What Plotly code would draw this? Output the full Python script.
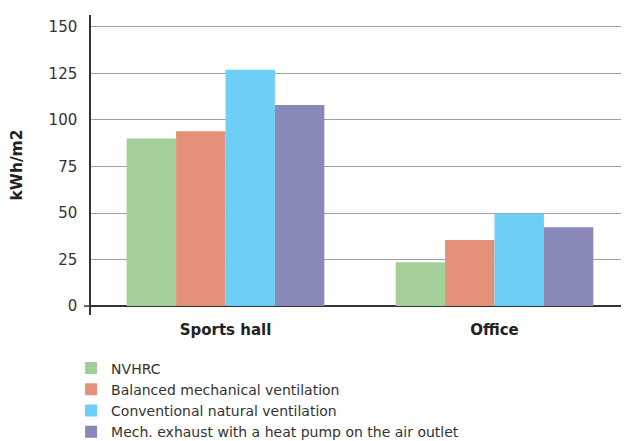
import plotly.graph_objects as go

categories = ["Sports hall", "Office"]
series_names = [
    "NVHRC",
    "Balanced mechanical ventilation",
    "Conventional natural ventilation",
    "Mech. exhaust with a heat pump on the air outlet",
]
nvhrc = [90, 23.5]
balanced = [94, 35.5]
conventional = [127, 49.8]
mech_exhaust = [108, 42.3]
colors = ["#A3CF98", "#E59179", "#6DCFF6", "#8888B9"]
y_ticks = [0, 25, 50, 75, 100, 125, 150]

fig = go.Figure()
for name, vals, col in zip(series_names, [nvhrc, balanced, conventional, mech_exhaust], colors):
    fig.add_trace(go.Bar(x=categories, y=vals, name=name, marker_color=col, marker_line_width=0))

font_family = "'DejaVu Sans', sans-serif"
fig.update_layout(
    width=629, height=441,
    margin=dict(l=83, r=8, t=7, b=134, autoexpand=False),
    plot_bgcolor="white", paper_bgcolor="white",
    barmode="group", bargap=0.265, bargroupgap=0,
    font=dict(family=font_family, color="#333333", size=14),
    showlegend=True,
    legend=dict(
        orientation="v",
        xref="paper", yref="paper",
        x=-0.037, y=-0.125, xanchor="left", yanchor="top",
        font=dict(size=14, color="#333333"),
        tracegroupgap=0,
        bgcolor="rgba(0,0,0,0)",
    ),
)
fig.update_xaxes(
    showline=False, showgrid=False, ticks="", tickangle=0, ticklabelstandoff=4,
    tickfont=dict(size=15, color="#222222", family=font_family, weight="bold"),
)
fig.update_yaxes(
    range=[-4.8, 156.4], tickvals=y_ticks,
    showgrid=True, gridcolor="#A0A0A0", gridwidth=1.2,
    zeroline=True, zerolinecolor="#333333", zerolinewidth=1.5,
    showline=True, linecolor="#333333", linewidth=1.5,
    ticks="", ticklabelstandoff=9,
    tickfont=dict(size=15, color="#333333"),
    title=dict(text="kWh/m2", font=dict(size=15.5, color="#222222", weight="bold"), standoff=24),
)
fig.add_shape(type="line", xref="paper", yref="y", x0=-0.013, x1=0, y0=0, y1=0,
              line=dict(color="#333333", width=1.5))

fig.write_html("out.html")
